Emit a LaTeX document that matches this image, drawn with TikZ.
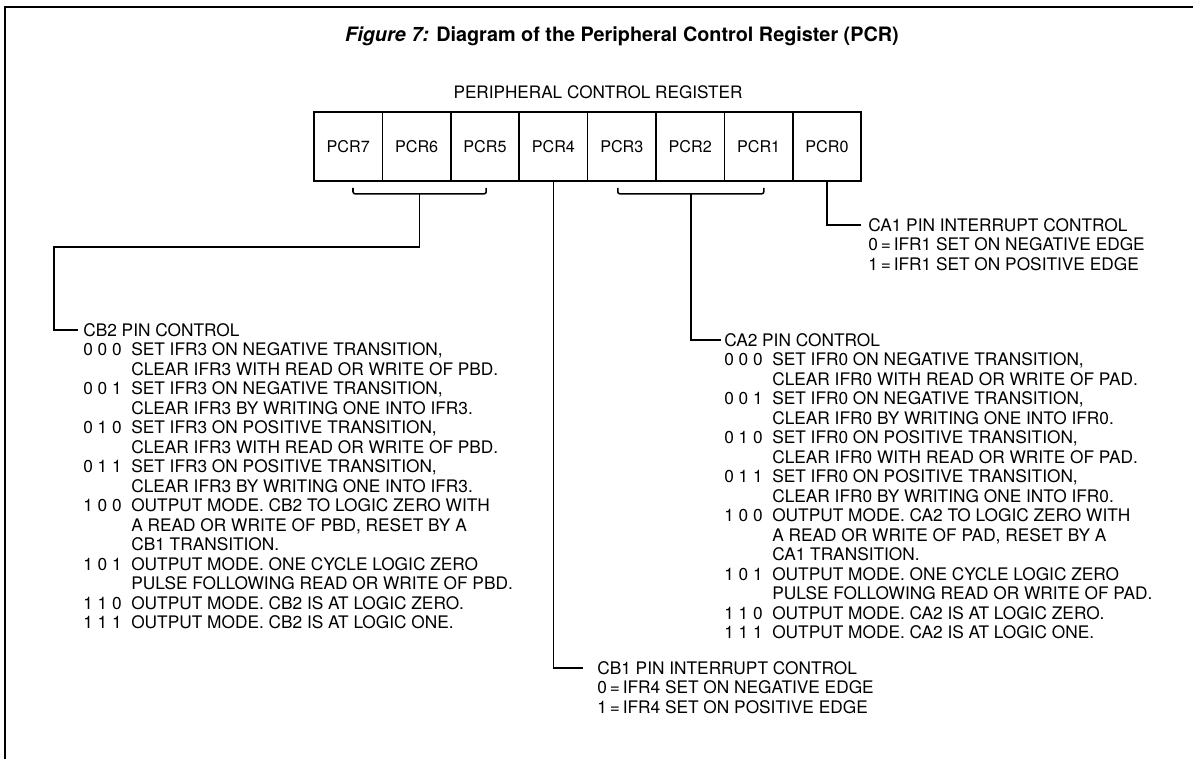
\documentclass[tikz,border=0pt]{standalone}
\usepackage{fontspec}
\setmainfont{TeX Gyre Heros}
\usepackage{array}
\usetikzlibrary{positioning,calc}
\tikzset{
    cell/.style = {
        draw,
        shape=rectangle,
        minimum height=1.725cm,
        minimum width=1.71cm,
        line width=1.2pt,
        font=\fontsize{11.5}{13}\selectfont
    },
    legend/.style = {
        anchor=base west,
        inner sep=0pt,
        align=left,
        font=\fontsize{12.3}{13.87}\selectfont
    },
    wire/.style = {
        draw,
        line width=1.1pt
    },
    brace/.style = {
        draw,
        line width=1.1pt,
        rounded corners=1.5pt
    },
}

\begin{document}
\begin{tikzpicture}
    \useasboundingbox (0,0) rectangle (29.825,-18.975);
    \path[draw, line width=1.6pt] (0.125,-18.975) |- (29.825,-0.175);

    \node[font=\fontsize{14.1}{17}\selectfont\bfseries] (title) at (15.55,-0.9)
        {\textit{Figure 7:} Diagram of the Peripheral Control Register (PCR)};
    \node[font=\fontsize{12.2}{14}\selectfont] (regname) at (14.95,-2.3)
        {PERIPHERAL CONTROL REGISTER};

    \foreach \b in {7,...,0}
        \node[cell] (pcr\b) at ({8.705+1.71*(7-\b)},-3.6625) {PCR\b};

    % brackets under the bit groups
    \coordinate (bl1) at ($(pcr7.south)+(0.12,-0.15)$);
    \coordinate (bl2) at ($(pcr5.south)+(0.03,-0.15)$);
    \coordinate (br1) at ($(pcr3.south)+(-0.1,-0.15)$);
    \coordinate (br2) at ($(pcr1.south)+(0.13,-0.15)$);
    \path[brace] (bl1) -- ++(0,-0.15) -- ($(bl2)+(0,-0.15)$) -- (bl2);
    \path[brace] (br1) -- ++(0,-0.15) -- ($(br2)+(0,-0.15)$) -- (br2);
    \coordinate (cbbr) at ($(bl1)!0.5!(bl2)+(0,-0.15)$);
    \coordinate (cabr) at ($(br1)!0.5!(br2)+(0,-0.15)$);
    \coordinate (cbturn) at (1.35,-6.175);

    \node[legend] (caone) at (21.7,-5.778) {\begin{tabular}[t]{@{}l@{}}
        CA1 PIN INTERRUPT CONTROL\\
        0\,=\,IFR1 SET ON NEGATIVE EDGE\\
        1\,=\,IFR1 SET ON POSITIVE EDGE
    \end{tabular}};

    \node[legend] (cbtwo) at (2.075,-8.405) {\begin{tabular}[t]{@{}p{1.2cm}@{}l@{}}
        \multicolumn{2}{@{}l@{}}{CB2 PIN CONTROL}\\
        0 0 0 & SET IFR3 ON NEGATIVE TRANSITION,\\
              & CLEAR IFR3 WITH READ OR WRITE OF PBD.\\
        0 0 1 & SET IFR3 ON NEGATIVE TRANSITION,\\
              & CLEAR IFR3 BY WRITING ONE INTO IFR3.\\
        0 1 0 & SET IFR3 ON POSITIVE TRANSITION,\\
              & CLEAR IFR3 WITH READ OR WRITE OF PBD.\\
        0 1 1 & SET IFR3 ON POSITIVE TRANSITION,\\
              & CLEAR IFR3 BY WRITING ONE INTO IFR3.\\
        1 0 0 & OUTPUT MODE. CB2 TO LOGIC ZERO WITH\\
              & A READ OR WRITE OF PBD, RESET BY A\\
              & CB1 TRANSITION.\\
        1 0 1 & OUTPUT MODE. ONE CYCLE LOGIC ZERO\\
              & PULSE FOLLOWING READ OR WRITE OF PBD.\\
        1 1 0 & OUTPUT MODE. CB2 IS AT LOGIC ZERO.\\
        1 1 1 & OUTPUT MODE. CB2 IS AT LOGIC ONE.
    \end{tabular}};

    \node[legend] (catwo) at (18.1,-8.655) {\begin{tabular}[t]{@{}p{1.2cm}@{}l@{}}
        \multicolumn{2}{@{}l@{}}{CA2 PIN CONTROL}\\
        0 0 0 & SET IFR0 ON NEGATIVE TRANSITION,\\
              & CLEAR IFR0 WITH READ OR WRITE OF PAD.\\
        0 0 1 & SET IFR0 ON NEGATIVE TRANSITION,\\
              & CLEAR IFR0 BY WRITING ONE INTO IFR0.\\
        0 1 0 & SET IFR0 ON POSITIVE TRANSITION,\\
              & CLEAR IFR0 WITH READ OR WRITE OF PAD.\\
        0 1 1 & SET IFR0 ON POSITIVE TRANSITION,\\
              & CLEAR IFR0 BY WRITING ONE INTO IFR0.\\
        1 0 0 & OUTPUT MODE. CA2 TO LOGIC ZERO WITH\\
              & A READ OR WRITE OF PAD, RESET BY A\\
              & CA1 TRANSITION.\\
        1 0 1 & OUTPUT MODE. ONE CYCLE LOGIC ZERO\\
              & PULSE FOLLOWING READ OR WRITE OF PAD.\\
        1 1 0 & OUTPUT MODE. CA2 IS AT LOGIC ZERO.\\
        1 1 1 & OUTPUT MODE. CA2 IS AT LOGIC ONE.
    \end{tabular}};

    \node[legend] (cbone) at (14.925,-16.853) {\begin{tabular}[t]{@{}l@{}}
        CB1 PIN INTERRUPT CONTROL\\
        0\,=\,IFR4 SET ON NEGATIVE EDGE\\
        1\,=\,IFR4 SET ON POSITIVE EDGE
    \end{tabular}};

    \path[wire] (cbbr) |- (cbturn) |- ($(cbtwo.base west)+(-0.12,0.155)$);
    \path[wire] (cabr) |- ($(catwo.base west)+(-0.08,0.155)$);
    \path[wire] (pcr0.south) |- ($(caone.base west)+(-0.18,0.155)$);
    \path[wire] (pcr4.south) |- ($(cbone.base west)+(-0.35,0.155)$);
\end{tikzpicture}
\end{document}
